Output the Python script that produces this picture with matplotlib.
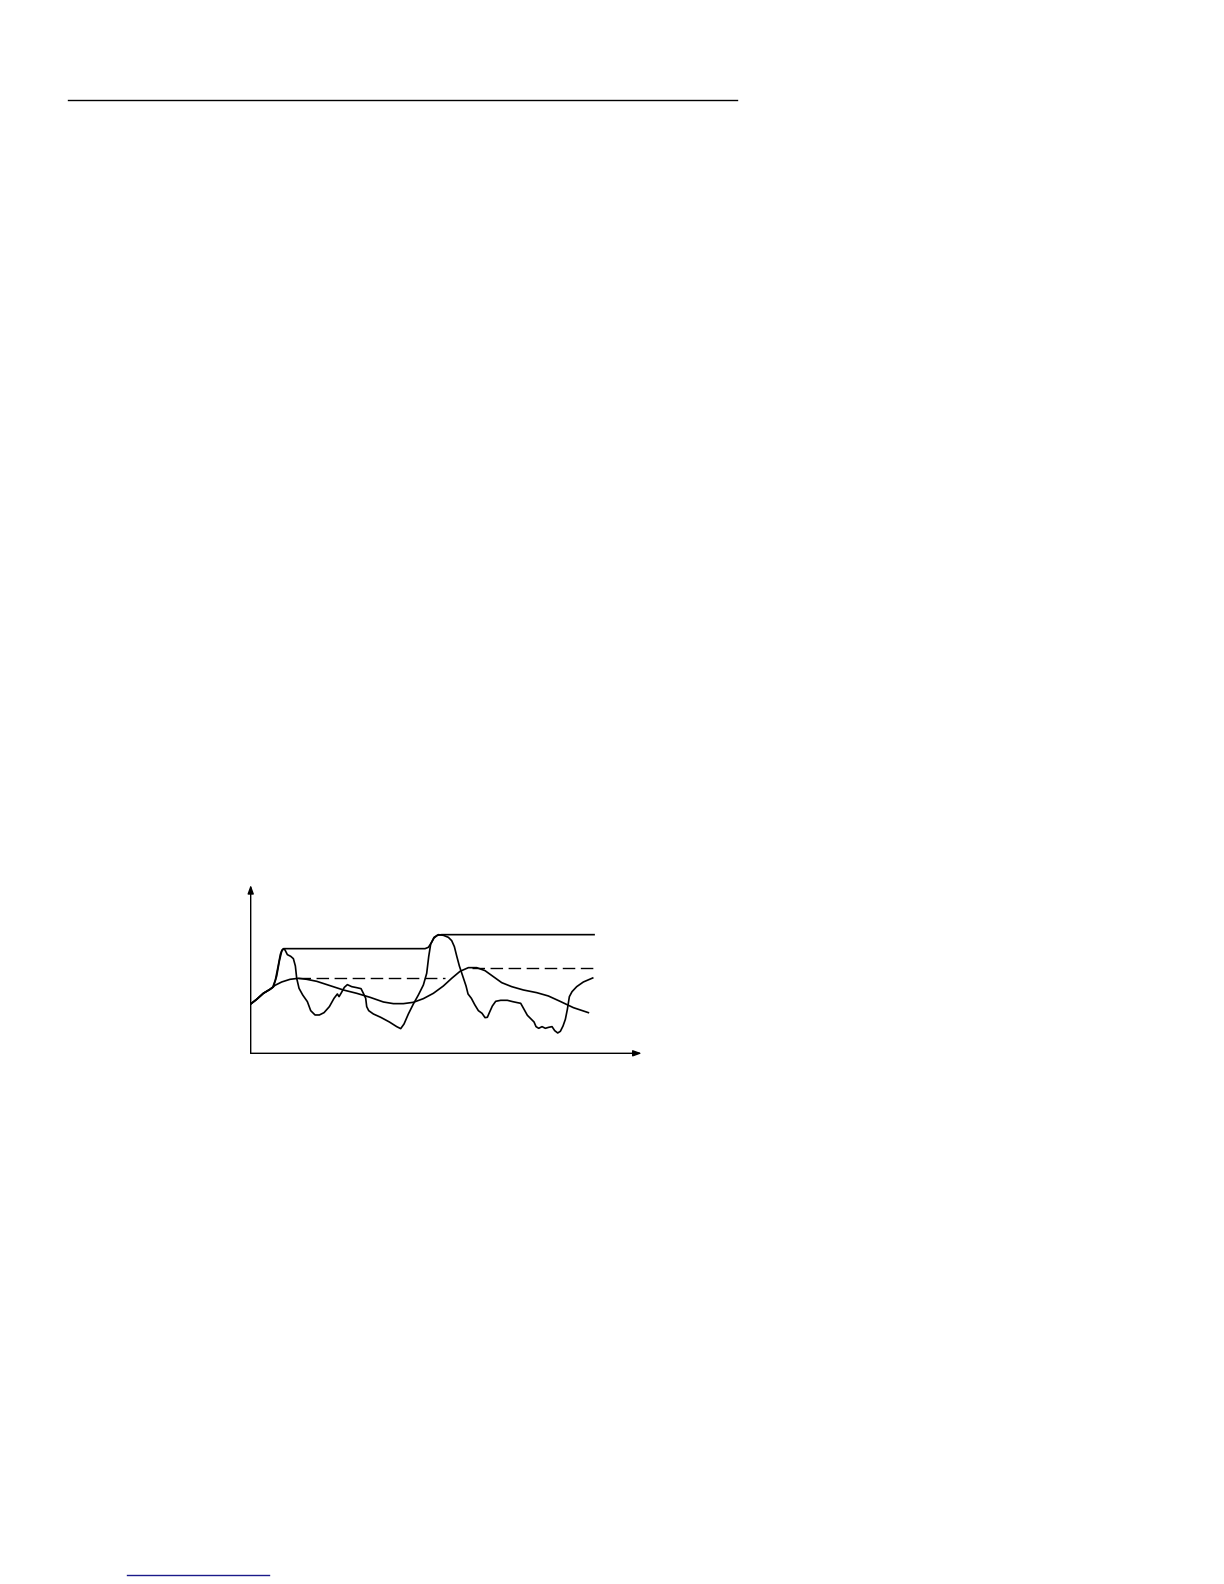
import matplotlib
matplotlib.use("Agg")
import matplotlib.pyplot as plt
from matplotlib.lines import Line2D

# -----------------------------
# DATA
# -----------------------------

# upper envelope (solid, steps up to a new level)
env_x = [0, 1.8, 3.8, 5.8, 6.6, 7.4, 8.2, 8.9, 9.4, 10.0, 13.8, 52.3, 53.3,
         54.1, 55.0, 56.0, 57.3, 103.0]
env_y = [14.8, 16.2, 18.0, 19.2, 19.8, 22.0, 26.0, 29.7, 31.0, 31.4, 31.4,
         31.4, 31.8, 33.0, 34.6, 35.4, 35.6, 35.6]

# noisy signal
sig_x = [0, 1.8, 3.8, 5.8, 6.8, 7.8, 8.6, 9.3, 9.8, 10.3, 11.0, 12.0, 12.8,
         13.4, 13.8, 14.5, 15.6, 17.0, 18.0, 19.3, 20.6, 22.0, 23.6, 25.0,
         26.0, 26.5, 27.1, 28.1, 29.0, 30.3, 31.8, 33.1, 33.8, 34.5, 34.8,
         35.4, 36.8, 39.0, 41.6, 43.8, 45.0, 46.0, 47.3, 48.8, 50.3, 51.8,
         52.8, 53.4, 54.0, 55.0, 56.3, 57.8, 59.3, 60.3, 61.1, 61.8, 62.6,
         63.6, 64.6, 65.2, 66.2, 67.2, 68.3, 69.4, 70.3, 71.0, 71.6, 72.5,
         73.5, 75.0, 77.0, 78.6, 80.0, 81.0, 82.0, 83.0, 84.0, 85.0, 85.6,
         86.4, 87.4, 88.4, 89.4, 90.4, 91.2, 92.1, 92.9, 93.7, 94.4, 95.0,
         95.6, 96.4, 97.8, 99.8, 102.6]
sig_y = [14.8, 16.2, 18.0, 19.2, 19.9, 23.2, 27.7, 30.6, 31.4, 31.0, 29.6,
         29.1, 28.4, 26.2, 22.5, 19.5, 17.5, 15.5, 12.8, 11.5, 11.5, 12.2,
         14.0, 16.5, 17.8, 17.0, 18.0, 19.8, 20.6, 20.0, 19.7, 19.4, 18.0,
         16.5, 14.0, 12.8, 11.8, 10.8, 9.4, 8.0, 7.4, 8.8, 11.8, 14.8, 17.5,
         20.5, 24.0, 29.0, 32.8, 34.8, 35.6, 35.4, 34.8, 33.8, 32.0, 29.2,
         26.2, 23.2, 20.2, 17.8, 16.5, 14.6, 12.8, 12.0, 10.7, 10.8, 12.2,
         14.2, 15.6, 15.9, 15.9, 15.5, 15.2, 15.0, 13.2, 11.4, 10.4, 9.4, 8.0,
         7.5, 8.0, 7.5, 7.8, 8.0, 6.8, 6.1, 6.6, 8.2, 10.2, 13.2, 17.0, 18.5,
         20.0, 21.4, 22.6]

# smooth signal
smooth_x = [0, 1.8, 3.8, 5.8, 7.3, 9.3, 11.8, 14.3, 16.8, 19.8, 23.8, 27.8,
            31.8, 35.8, 39.8, 42.8, 45.8, 48.8, 51.8, 54.8, 57.8, 60.3, 62.8,
            65.3, 67.8, 70.3, 72.8, 75.3, 78.3, 81.8, 85.8, 89.3, 92.8, 96.8,
            101.3]
smooth_y = [14.8, 16.2, 18.0, 19.2, 20.4, 21.4, 22.2, 22.5, 22.2, 21.6,
            20.3, 19.0, 18.0, 16.8, 15.4, 14.9, 14.9, 15.3, 16.4, 18.0, 20.2,
            22.5, 24.6, 25.7, 25.7, 24.8, 23.0, 21.2, 20.0, 19.0, 18.2, 17.2,
            15.6, 13.7, 12.2]

# dashed hold levels of the smooth signal
hold1_x = [14.3, 58.3]
hold1_y = [22.5, 22.5]
hold2_x = [66.5, 102.6]
hold2_y = [25.7, 25.7]

x_max = 117.3
y_max = 50.5

# -----------------------------
# FIGURE
# -----------------------------

W, H = 1224, 1584
fig = plt.figure(figsize=(W / 100, H / 100), dpi=100)

# page rules
fig.add_artist(Line2D([68 / W, 737 / W], [1 - 100 / H, 1 - 100 / H],
                      color="black", lw=1.0))
fig.add_artist(Line2D([127 / W, 269 / W], [1 - 1575 / H, 1 - 1575 / H],
                      color="#1a1a8a", lw=1.0))

ax = fig.add_axes([250.7 / W, 1 - 1053.3 / H, 391.0 / W, 168.3 / H])
ax.set_xlim(0, x_max)
ax.set_ylim(0, y_max)
ax.axis("off")

lw = 1.2
ax.plot(env_x, env_y, color="black", lw=lw)
ax.plot(sig_x, sig_y, color="black", lw=lw)
ax.plot(smooth_x, smooth_y, color="black", lw=lw)
ax.plot(hold1_x, hold1_y, color="black", lw=1.0, dashes=(9, 4))
ax.plot(hold2_x, hold2_y, color="black", lw=1.0, dashes=(9, 4))

# axes with arrow heads
arrow = dict(arrowstyle="-|>,head_length=0.5,head_width=0.18",
             color="black", lw=1.0, shrinkA=0, shrinkB=0)
ax.annotate("", xy=(x_max, 0), xytext=(0, 0), arrowprops=arrow,
            annotation_clip=False)
ax.annotate("", xy=(0, y_max), xytext=(0, 0), arrowprops=arrow,
            annotation_clip=False)

fig.savefig("out.png", dpi=100)
